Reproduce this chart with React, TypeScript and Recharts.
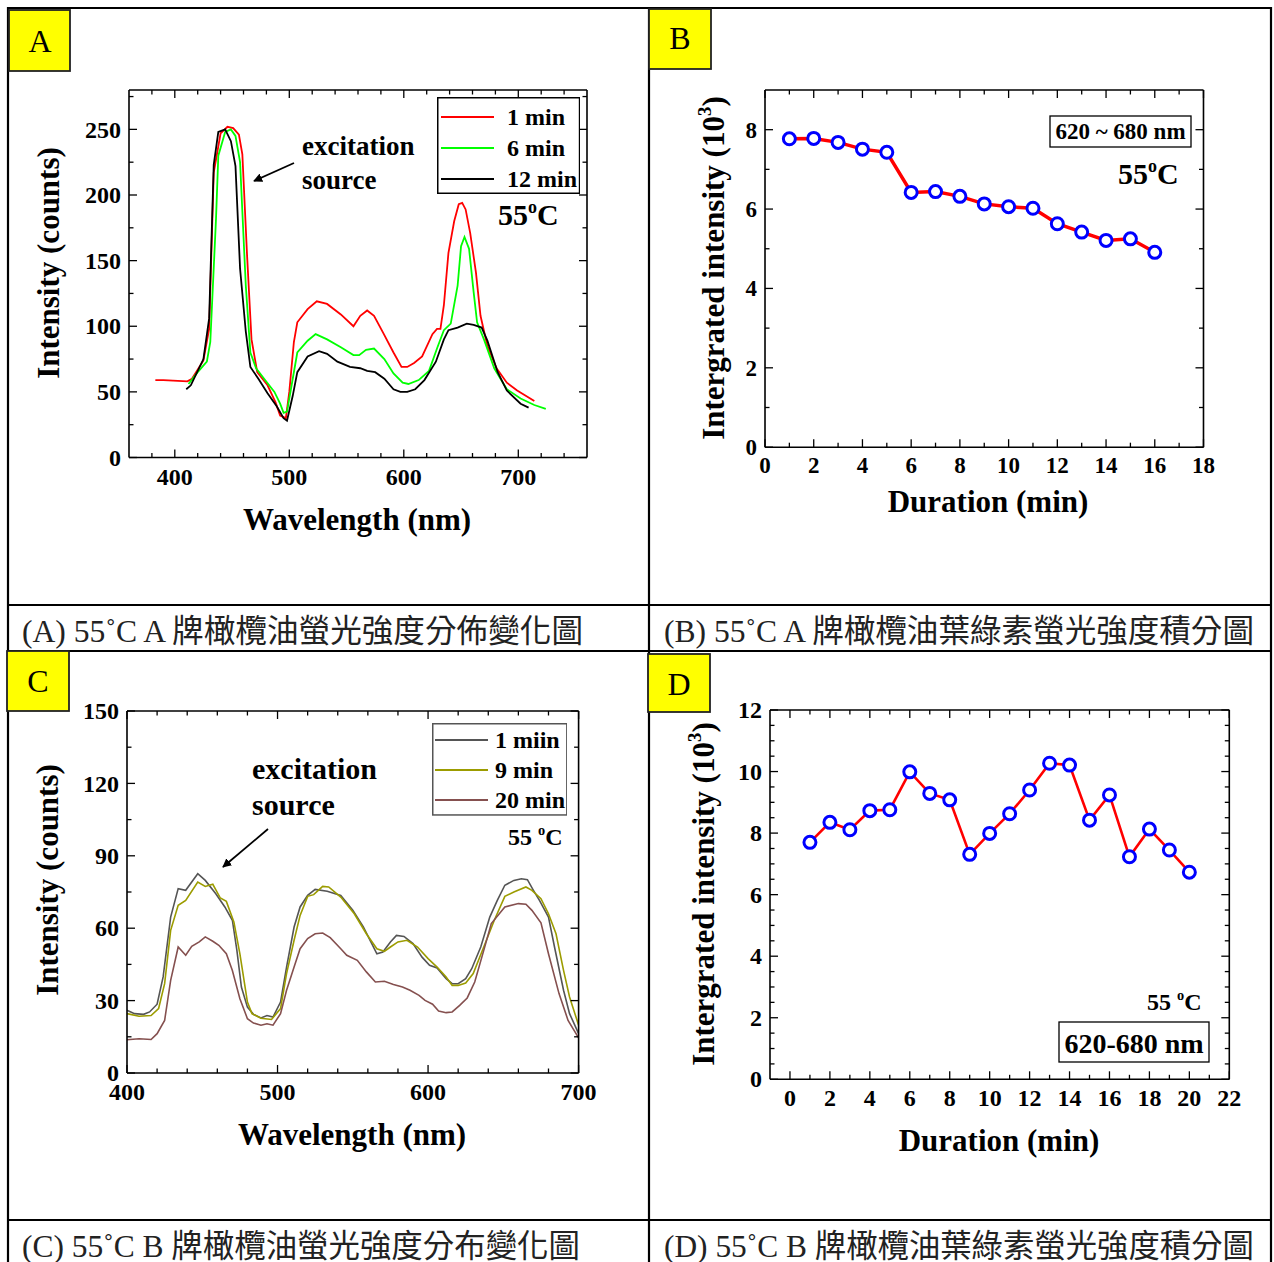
import React from 'react';
import { LineChart, Line, XAxis, YAxis, Legend } from 'recharts';

const SERIF = "'Liberation Serif', 'Times New Roman', Times, serif";
const CAPFONT = "'Liberation Serif', 'Noto Sans CJK TC', serif";

// ---------- Panel A : 55°C brand A spectra ----------
const aWl1 = [383, 390, 411, 415, 425, 430, 434, 440, 446, 451, 456, 459, 463, 467, 472, 481, 488, 492, 497, 500, 504, 507, 516, 524, 533, 545, 556, 562, 568, 574, 582, 591, 598, 603, 609, 616, 625, 629, 632, 635, 639, 644, 648, 651, 654, 658, 663, 667, 673, 681, 690, 699, 714];
const aInt1 = [59, 59, 58, 60, 74, 98, 217, 247, 252, 251, 246, 231, 156, 90, 65, 55, 42, 32, 30, 50, 88, 103, 113, 119, 117, 109, 100, 108, 112, 108, 95, 80, 69, 69, 72, 77, 94, 98, 98, 116, 156, 180, 193, 194, 189, 171, 141, 108, 85, 68, 57, 51, 43];
const aWl6 = [412, 420, 428, 431, 436, 438, 444, 449, 453, 457, 462, 466, 471, 478, 487, 492, 495, 498, 503, 507, 516, 523, 533, 545, 556, 561, 567, 574, 583, 591, 599, 604, 613, 622, 629, 635, 641, 647, 650, 653, 657, 661, 664, 670, 679, 690, 702, 714, 724];
const aInt6 = [56, 65, 73, 88, 182, 230, 248, 250, 245, 225, 131, 80, 68, 60, 50, 41, 34, 35, 60, 80, 89, 94, 90, 84, 78, 78, 82, 83, 75, 64, 57, 56, 59, 66, 83, 97, 102, 131, 161, 168, 159, 126, 103, 90, 68, 52, 45, 40, 37];
const aWl12 = [410, 414, 425, 430, 434, 438, 444, 449, 453, 457, 462, 466, 473, 481, 489, 495, 498, 503, 507, 516, 526, 533, 542, 553, 562, 568, 575, 583, 591, 597, 603, 610, 618, 628, 635, 639, 647, 655, 661, 668, 673, 682, 690, 702, 709];
const aInt12 = [52, 55, 75, 106, 223, 248, 250, 241, 222, 144, 96, 69, 60, 49, 39, 30, 28, 47, 65, 77, 81, 79, 73, 69, 68, 66, 65, 60, 52, 50, 50, 52, 59, 73, 90, 97, 99, 102, 101, 99, 89, 65, 51, 41, 38];
const aNames = ['1 min', '6 min', '12 min'];
const aColors = ['#ff0000', '#00ff00', '#000000'];
const aXMajor = [400, 500, 600, 700];
const aXMinor = [380, 420, 440, 460, 480, 520, 540, 560, 580, 620, 640, 660, 680, 720, 740];
const aYMajor = [0, 50, 100, 150, 200, 250];
const aYMinor = [25, 75, 125, 175, 225, 275];

// ---------- Panel B : integrated intensity, brand A ----------
const bMinutes = [1, 2, 3, 4, 5, 6, 7, 8, 9, 10, 11, 12, 13, 14, 15, 16];
const bIntensity = [7.77, 7.78, 7.68, 7.51, 7.43, 6.42, 6.44, 6.32, 6.13, 6.06, 6.02, 5.63, 5.42, 5.21, 5.25, 4.91];
const bXMajor = [0, 2, 4, 6, 8, 10, 12, 14, 16, 18];
const bXMinor = [1, 3, 5, 7, 9, 11, 13, 15, 17];
const bYMajor = [0, 2, 4, 6, 8];
const bYMinor = [1, 3, 5, 7];

// ---------- Panel C : 55°C brand B spectra ----------
const cWl1 = [400, 405, 411, 415, 420, 424, 429, 434, 439, 447, 452, 459, 465, 470, 473, 476, 480, 484, 489, 493, 497, 502, 506, 511, 515, 520, 525, 533, 542, 550, 557, 562, 566, 570, 575, 579, 584, 590, 596, 601, 606, 612, 616, 620, 625, 629, 635, 641, 646, 651, 657, 662, 666, 670, 674, 680, 684, 690, 694, 700];
const cInt1 = [26, 24.6, 24.3, 25.3, 28.5, 39.8, 64.6, 76.4, 75.7, 82.6, 79.8, 74.3, 68.8, 63.3, 50.8, 35.6, 27.3, 24.3, 22.8, 23.8, 23.2, 29.4, 43.9, 60.5, 68.8, 73.6, 76.1, 75.3, 73.6, 67.4, 60.5, 54.3, 49.4, 50.1, 54.3, 57, 56.6, 53.6, 48, 44.6, 43.5, 39.1, 37, 37, 39.1, 43.2, 52.2, 64.6, 71.5, 77.8, 79.8, 80.5, 80.1, 75.7, 71.5, 64.6, 52.2, 34.3, 24.6, 16.3];
const cWl9 = [400, 408, 416, 421, 425, 429, 434, 439, 447, 452, 457, 462, 466, 471, 475, 480, 483, 489, 496, 502, 506, 511, 515, 520, 524, 530, 534, 542, 551, 559, 566, 571, 575, 580, 586, 593, 600, 606, 612, 616, 620, 625, 630, 637, 644, 651, 657, 665, 669, 675, 680, 685, 690, 694, 700];
const cInt9 = [24.6, 23.5, 23.8, 26.7, 37, 59.1, 69.5, 71.5, 79.1, 77.3, 78.2, 72.5, 71.1, 62.6, 49.4, 29.4, 24.6, 22.7, 22.2, 26.7, 41.2, 55, 65.3, 73.2, 73.9, 77.3, 77.1, 72.9, 66, 57.7, 51.5, 50.4, 52.2, 54.3, 55, 52.2, 47.4, 43.9, 39.8, 36.3, 36.3, 37.3, 41.2, 52.2, 63.3, 73.2, 75, 77.1, 75.7, 72.2, 66, 57.7, 42.5, 31.5, 19.8];
const cWl20 = [400, 408, 416, 420, 425, 429, 434, 439, 443, 448, 452, 457, 461, 466, 470, 475, 480, 484, 489, 493, 497, 502, 506, 511, 515, 520, 525, 530, 535, 542, 546, 553, 559, 565, 571, 577, 583, 588, 594, 598, 603, 607, 612, 616, 621, 626, 631, 637, 642, 651, 660, 665, 669, 675, 680, 687, 693, 700];
const cInt20 = [13.8, 14.2, 13.9, 16.3, 21.8, 38.4, 52.2, 48.8, 52.5, 54.3, 56.4, 54.6, 52.9, 49.4, 42.5, 30.8, 22.5, 20.7, 19.8, 20.4, 19.8, 24.6, 34.3, 43.9, 51.5, 55.7, 57.7, 58, 56.1, 51.5, 48.8, 46.7, 41.9, 37.7, 38, 36.7, 35.6, 34.3, 32.2, 30.1, 28.5, 25.7, 25, 25.3, 28, 31.1, 37.7, 50.8, 61.9, 68.8, 70.2, 69.9, 67.4, 62.2, 49.4, 32.9, 21.8, 14.6];
const cNames = ['1 miin', '9 min', '20 min'];
const cColors = ['#555555', '#9c9c00', '#85504f'];
const cXMajor = [400, 500, 600, 700];
const cXMinor = [420, 440, 460, 480, 520, 540, 560, 580, 620, 640, 660, 680];
const cYMajor = [0, 30, 60, 90, 120, 150];
const cYMinor = [15, 45, 75, 105, 135];

// ---------- Panel D : integrated intensity, brand B ----------
const dMinutes = [1, 2, 3, 4, 5, 6, 7, 8, 9, 10, 11, 12, 13, 14, 15, 16, 17, 18, 19, 20];
const dIntensity = [7.70, 8.35, 8.11, 8.73, 8.76, 9.99, 9.29, 9.08, 7.31, 7.99, 8.63, 9.40, 10.27, 10.21, 8.42, 9.24, 7.23, 8.13, 7.45, 6.73];
const dXMajor = [0, 2, 4, 6, 8, 10, 12, 14, 16, 18, 20, 22];
const dXMinor = [1, 3, 5, 7, 9, 11, 13, 15, 17, 19, 21];
const dYMajor = [0, 2, 4, 6, 8, 10, 12];
const dYMinor = [0.5, 1, 1.5, 2.5, 3, 3.5, 4.5, 5, 5.5, 6.5, 7, 7.5, 8.5, 9, 9.5, 10.5, 11, 11.5];

const zip = (xs: number[], ys: number[]) => xs.slice(0, Math.min(xs.length, ys.length)).map((x, i) => ({ x, y: ys[i] }));

type Orient = 'bottom' | 'top' | 'left' | 'right';

const makeTick = (orient: Orient, major: number[], label: boolean, fs: number) => (props: any) => {
  const { x, y, payload } = props;
  const v = payload.value;
  const isMajor = major.some((m) => Math.abs(m - v) < 1e-6);
  const len = isMajor ? 8 : 4.5;
  let l = { x1: x, y1: y, x2: x, y2: y };
  if (orient === 'bottom') l = { x1: x, y1: y, x2: x, y2: y - len };
  if (orient === 'top') l = { x1: x, y1: y, x2: x, y2: y + len };
  if (orient === 'left') l = { x1: x, y1: y, x2: x + len, y2: y };
  if (orient === 'right') l = { x1: x, y1: y, x2: x - len, y2: y };
  let txt: React.ReactNode = null;
  if (label && isMajor) {
    if (orient === 'bottom') {
      txt = (
        <text x={x} y={y + fs + 3} textAnchor="middle" fontFamily={SERIF} fontWeight="bold" fontSize={fs} fill="#000">
          {v}
        </text>
      );
    } else if (orient === 'left') {
      txt = (
        <text x={x - 8} y={y + fs * 0.34} textAnchor="end" fontFamily={SERIF} fontWeight="bold" fontSize={fs} fill="#000">
          {v}
        </text>
      );
    }
  }
  return (
    <g>
      <line {...l} stroke="#000" strokeWidth={1.3} />
      {txt}
    </g>
  );
};

type Series = { name: string; color: string; width: number; data: { x: number; y: number }[]; dot?: any };
type LegendCfg = { left: number; top: number; w: number; h: number; rowY: number[]; lx0: number; lx1: number; tx: number; fs: number; border: string; order: string[] };

const LegendBox = ({ payload, cfg }: { payload?: any[]; cfg: LegendCfg }) => {
  const items = [...(payload || [])].sort((a: any, b: any) => cfg.order.indexOf(a.value) - cfg.order.indexOf(b.value));
  return (
    <svg width={cfg.w} height={cfg.h} style={{ display: 'block' }}>
      <rect x={0.75} y={0.75} width={cfg.w - 1.5} height={cfg.h - 1.5} fill="#fff" stroke={cfg.border} strokeWidth={1.5} />
      {items.map((p: any, i: number) => (
        <g key={i}>
          <line x1={cfg.lx0} x2={cfg.lx1} y1={cfg.rowY[i]} y2={cfg.rowY[i]} stroke={p.color} strokeWidth={2} />
          <text x={cfg.tx} y={cfg.rowY[i] + cfg.fs * 0.34} fontFamily={SERIF} fontWeight="bold" fontSize={cfg.fs} fill="#000">
            {p.value}
          </text>
        </g>
      ))}
    </svg>
  );
};

type PanelProps = {
  plot: { x0: number; y0: number; x1: number; y1: number };
  xDomain: [number, number];
  yDomain: [number, number];
  xMajor: number[];
  xMinor: number[];
  yMajor: number[];
  yMinor: number[];
  series: Series[];
  fs: number;
  legend?: LegendCfg;
};

const Panel = (p: PanelProps) => {
  const wl = 80;
  const hb = 48;
  const pad = 22;
  const L = p.plot.x0 - wl;
  const T = p.plot.y0 - pad;
  const W = wl + (p.plot.x1 - p.plot.x0) + pad;
  const H = pad + (p.plot.y1 - p.plot.y0) + hb;
  const xt = [...p.xMajor, ...p.xMinor].sort((a, b) => a - b);
  const yt = [...p.yMajor, ...p.yMinor].sort((a, b) => a - b);
  const axisLine = { stroke: '#000', strokeWidth: 1.6 };
  const common = { type: 'number' as const, interval: 0 as const, tickSize: 0, tickMargin: 0, tickLine: false, axisLine, allowDataOverflow: true };
  return (
    <div style={{ position: 'absolute', left: L, top: T }}>
      <LineChart width={W} height={H} margin={{ top: 0, right: 0, bottom: 0, left: 0 }} style={{ overflow: 'visible' }}>
        <XAxis xAxisId="b" orientation="bottom" dataKey="x" domain={p.xDomain} ticks={xt} height={hb} tick={makeTick('bottom', p.xMajor, true, p.fs)} {...common} />
        <XAxis xAxisId="t" orientation="top" dataKey="x" domain={p.xDomain} ticks={xt} height={pad} tick={makeTick('top', p.xMajor, false, p.fs)} {...common} />
        <YAxis yAxisId="l" orientation="left" domain={p.yDomain} ticks={yt} width={wl} tick={makeTick('left', p.yMajor, true, p.fs)} {...common} />
        <YAxis yAxisId="r" orientation="right" domain={p.yDomain} ticks={yt} width={pad} tick={makeTick('right', p.yMajor, false, p.fs)} {...common} />
        {p.series.map((s) => (
          <Line
            key={s.name}
            xAxisId="b"
            yAxisId="l"
            data={s.data}
            dataKey="y"
            name={s.name}
            type="linear"
            stroke={s.color}
            strokeWidth={s.width}
            dot={s.dot ?? false}
            activeDot={false}
            isAnimationActive={false}
          />
        ))}
        {p.legend && (
          <Legend
            layout="vertical"
            align="center"
            verticalAlign="middle"
            wrapperStyle={{ position: 'absolute', left: p.legend.left - L, top: p.legend.top - T, width: p.legend.w, height: p.legend.h }}
            content={(lp: any) => <LegendBox payload={lp.payload} cfg={p.legend as LegendCfg} />}
          />
        )}
      </LineChart>
    </div>
  );
};

const aSeries: Series[] = [zip(aWl1, aInt1), zip(aWl6, aInt6), zip(aWl12, aInt12)].map((d, i) => ({ name: aNames[i], color: aColors[i], width: 1.8, data: d }));
const cSeries: Series[] = [zip(cWl1, cInt1), zip(cWl9, cInt9), zip(cWl20, cInt20)].map((d, i) => ({ name: cNames[i], color: cColors[i], width: 1.6, data: d }));
const markerDot = { r: 6, stroke: '#0000ff', strokeWidth: 3, fill: '#ffffff' };
const bSeries: Series[] = [{ name: 'B', color: '#ff0000', width: 3.5, data: zip(bMinutes, bIntensity), dot: markerDot }];
const dSeries: Series[] = [{ name: 'D', color: '#ff0000', width: 2.6, data: zip(dMinutes, dIntensity), dot: markerDot }];

const Deg = ({ x, y, fs, gap }: { x: number; y: number; fs: number; gap?: boolean }) => (
  <text x={x} y={y} fontFamily={SERIF} fontWeight="bold" fontSize={fs} fill="#000">
    {gap ? '55 ' : '55'}
    <tspan fontSize={fs * 0.6} dy={-fs * 0.4}>o</tspan>
    <tspan dy={fs * 0.4}>C</tspan>
  </text>
);

const TITLE = 31;

const Overlay = () => (
  <svg width={1274} height={1262} style={{ position: 'absolute', left: 0, top: 0, pointerEvents: 'none' }}>
    <defs>
      <marker id="arrowHead" viewBox="0 0 10 10" refX="9" refY="5" markerWidth="5" markerHeight="5" orient="auto-start-reverse">
        <path d="M0,0 L10,5 L0,10 z" fill="#000" />
      </marker>
    </defs>
    {/* table lines */}
    <g stroke="#000" strokeWidth={2.2}>
      <line x1={7} y1={8} x2={1272} y2={8} />
      <line x1={8} y1={7} x2={8} y2={1262} />
      <line x1={1271} y1={7} x2={1271} y2={1262} />
      <line x1={649} y1={7} x2={649} y2={1262} />
      <line x1={7} y1={605} x2={1272} y2={605} />
      <line x1={7} y1={651} x2={1272} y2={651} />
      <line x1={7} y1={1220} x2={1272} y2={1220} />
    </g>
    {/* panel letters */}
    <g fill="#ffff00" stroke="#222" strokeWidth={1.8}>
      <rect x={9} y={10} width={61} height={61} />
      <rect x={649} y={9} width={62} height={60} />
      <rect x={7} y={651} width={62} height={60} />
      <rect x={648} y={654} width={62} height={58} />
    </g>
    <g fontFamily={SERIF} fontSize={32} fill="#000" textAnchor="middle">
      <text x={40} y={52}>A</text>
      <text x={680} y={49}>B</text>
      <text x={38} y={692}>C</text>
      <text x={679} y={695}>D</text>
    </g>
    {/* captions */}
    <g fontFamily={CAPFONT} fontSize={32} fill="#222">
      <text x={22} y={642} textLength={561} lengthAdjust="spacingAndGlyphs">(A) 55˚C A 牌橄欖油螢光強度分佈變化圖</text>
      <text x={664} y={642} textLength={590} lengthAdjust="spacingAndGlyphs">(B) 55˚C A 牌橄欖油葉綠素螢光強度積分圖</text>
      <text x={22} y={1257} textLength={558} lengthAdjust="spacingAndGlyphs">(C) 55˚C B 牌橄欖油螢光強度分布變化圖</text>
      <text x={664} y={1257} textLength={590} lengthAdjust="spacingAndGlyphs">(D) 55˚C B 牌橄欖油葉綠素螢光強度積分圖</text>
    </g>
    {/* axis titles */}
    <g fontFamily={SERIF} fontWeight="bold" fontSize={TITLE} fill="#000" textAnchor="middle">
      <text x={357} y={530}>Wavelength (nm)</text>
      <text transform="translate(59,263) rotate(-90)">Intensity (counts)</text>
      <text x={988} y={512}>Duration (min)</text>
      <text transform="translate(724,268) rotate(-90)">
        Intergrated intensity (10<tspan fontSize={19} dy={-13}>3</tspan>
        <tspan dy={13}>)</tspan>
      </text>
      <text x={352} y={1145}>Wavelength (nm)</text>
      <text transform="translate(58,880) rotate(-90)">Intensity (counts)</text>
      <text x={999} y={1151}>Duration (min)</text>
      <text transform="translate(714,894) rotate(-90)">
        Intergrated intensity (10<tspan fontSize={19} dy={-13}>3</tspan>
        <tspan dy={13}>)</tspan>
      </text>
    </g>
    {/* panel A annotations */}
    <g fontFamily={SERIF} fontWeight="bold" fontSize={27} fill="#000">
      <text x={302} y={155}>excitation</text>
      <text x={302} y={189}>source</text>
    </g>
    <line x1={294} y1={163} x2={254} y2={181} stroke="#000" strokeWidth={1.8} markerEnd="url(#arrowHead)" />
    <Deg x={498} y={225} fs={30} />
    {/* panel B annotations */}
    <rect x={1050} y={116} width={141} height={31} fill="#fff" stroke="#000" strokeWidth={1.3} />
    <text x={1120.5} y={139} textAnchor="middle" fontFamily={SERIF} fontWeight="bold" fontSize={23} fill="#000">620 ~ 680 nm</text>
    <Deg x={1118} y={184} fs={30} />
    {/* panel C annotations */}
    <g fontFamily={SERIF} fontWeight="bold" fontSize={30} fill="#000">
      <text x={252} y={779}>excitation</text>
      <text x={252} y={815}>source</text>
    </g>
    <line x1={268} y1={829} x2={223} y2={867} stroke="#000" strokeWidth={1.8} markerEnd="url(#arrowHead)" />
    <Deg x={508} y={845} fs={24} gap />
    {/* panel D annotations */}
    <Deg x={1147} y={1010} fs={24} gap />
    <rect x={1059} y={1022} width={150} height={40} fill="#fff" stroke="#000" strokeWidth={1.3} />
    <text x={1134} y={1053} textAnchor="middle" fontFamily={SERIF} fontWeight="bold" fontSize={28} fill="#000">620-680 nm</text>
  </svg>
);

export default function App() {
  return (
    <div style={{ position: 'absolute', left: 0, top: 0, width: 1274, height: 1262, background: '#fff', overflow: 'hidden' }}>
      <Panel
        plot={{ x0: 128.5, y0: 90, x1: 586.5, y1: 457.5 }}
        xDomain={[360, 760]}
        yDomain={[0, 280]}
        xMajor={aXMajor}
        xMinor={aXMinor}
        yMajor={aYMajor}
        yMinor={aYMinor}
        series={aSeries}
        fs={24}
        legend={{ left: 436.7, top: 97.3, w: 143.3, h: 97, rowY: [20, 51, 82], lx0: 4, lx1: 57, tx: 70, fs: 24, border: '#000', order: aNames }}
      />
      <Panel
        plot={{ x0: 765, y0: 89.5, x1: 1203.5, y1: 446.7 }}
        xDomain={[0, 18]}
        yDomain={[0, 9]}
        xMajor={bXMajor}
        xMinor={bXMinor}
        yMajor={bYMajor}
        yMinor={bYMinor}
        series={bSeries}
        fs={23}
      />
      <Panel
        plot={{ x0: 126.7, y0: 710.7, x1: 578.3, y1: 1072.7 }}
        xDomain={[400, 700]}
        yDomain={[0, 150]}
        xMajor={cXMajor}
        xMinor={cXMinor}
        yMajor={cYMajor}
        yMinor={cYMinor}
        series={cSeries}
        fs={24}
        legend={{ left: 431.7, top: 723.3, w: 135.6, h: 92.7, rowY: [17, 47, 77], lx0: 3, lx1: 56, tx: 63, fs: 24, border: '#555', order: cNames }}
      />
      <Panel
        plot={{ x0: 770, y0: 710, x1: 1229.3, y1: 1079.3 }}
        xDomain={[-1, 22]}
        yDomain={[0, 12]}
        xMajor={dXMajor}
        xMinor={dXMinor}
        yMajor={dYMajor}
        yMinor={dYMinor}
        series={dSeries}
        fs={24}
      />
      <Overlay />
    </div>
  );
}
